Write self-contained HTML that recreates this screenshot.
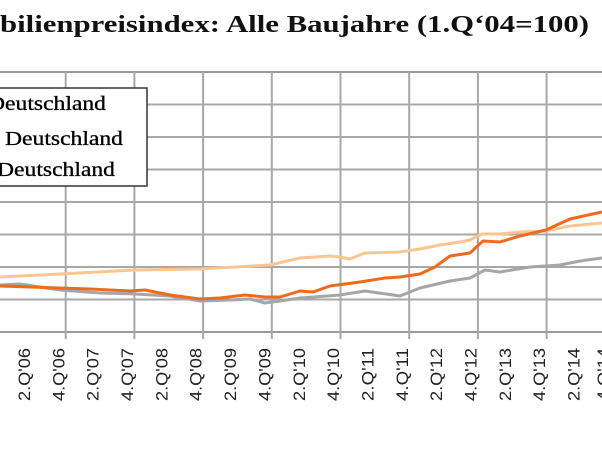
<!DOCTYPE html>
<html><head><meta charset="utf-8"><style>
html,body{margin:0;padding:0;background:#fff;width:602px;height:452px;overflow:hidden}
svg{display:block}
</style></head><body>
<svg width="602" height="452" xmlns="http://www.w3.org/2000/svg">
<text x="0" y="32" font-family="Liberation Serif, serif" font-weight="bold" font-size="24" fill="#111" textLength="589" lengthAdjust="spacingAndGlyphs">bilienpreisindex: Alle Baujahre (1.Q‘04=100)</text>
<g stroke="#a8a8a8" stroke-width="2">
<line x1="0" y1="72" x2="602" y2="72" stroke="#999"/>
<line x1="0" y1="104.5" x2="602" y2="104.5"/>
<line x1="0" y1="137" x2="602" y2="137"/>
<line x1="0" y1="169.5" x2="602" y2="169.5"/>
<line x1="0" y1="202" x2="602" y2="202"/>
<line x1="0" y1="234.5" x2="602" y2="234.5"/>
<line x1="0" y1="267" x2="602" y2="267"/>
<line x1="0" y1="299.5" x2="602" y2="299.5"/>
<line x1="0" y1="332" x2="602" y2="332" stroke="#999"/>
<line x1="65.7" y1="72" x2="65.7" y2="339"/>
<line x1="134.4" y1="72" x2="134.4" y2="339"/>
<line x1="203.1" y1="72" x2="203.1" y2="339"/>
<line x1="271.8" y1="72" x2="271.8" y2="339"/>
<line x1="340.5" y1="72" x2="340.5" y2="339"/>
<line x1="409.2" y1="72" x2="409.2" y2="339"/>
<line x1="477.9" y1="72" x2="477.9" y2="339"/>
<line x1="546.6" y1="72" x2="546.6" y2="339"/>
</g>
<g fill="none" stroke-width="3" stroke-linejoin="round">
<polyline stroke="#fcc592" points="0,277 60,274 135,270 200,269 270,265 300,258 330,256 340,257 350,259 365,253 400,252 420,249 440,245 460,242 470,240 482,234 500,234 520,232 546,231 570,226 602,223"/>
<polyline stroke="#a6a6a6" points="0,285 20,284 60,290 100,293 135,294 170,296 200,301 230,300 250,299 265,303 280,301 300,298 340,295 365,291 400,296 420,288 450,281 470,278 485,270 500,272 530,267 546,266 560,265 580,261 602,258"/>
<polyline stroke="#f06a1c" points="0,286 60,288 90,289 130,291 145,290 170,295 200,299 220,298 245,295 265,297 280,297 300,291 313,292 330,286 360,282 385,278 400,277 420,274 435,267 450,256 470,253 483,241 500,242 520,236 546,230 570,219 602,212"/>
</g>
<rect x="-5" y="88" width="152" height="98" fill="#fff" stroke="#333" stroke-width="1.5"/>
<g font-family="Liberation Serif, serif" font-size="20" fill="#000" stroke="#000" stroke-width="0.3" text-anchor="end">
<text x="106" y="110" textLength="118" lengthAdjust="spacingAndGlyphs">Deutschland</text>
<text x="123" y="145" textLength="118" lengthAdjust="spacingAndGlyphs">Deutschland</text>
<text x="115" y="176" textLength="118" lengthAdjust="spacingAndGlyphs">Deutschland</text>
</g>
<g font-family="Liberation Sans, sans-serif" font-size="17" fill="#222" text-anchor="end">
<text transform="translate(-4,348) rotate(-90)" textLength="53" lengthAdjust="spacingAndGlyphs">4.Q'05</text>
<text transform="translate(30,348) rotate(-90)" textLength="53" lengthAdjust="spacingAndGlyphs">2.Q'06</text>
<text transform="translate(64.4,348) rotate(-90)" textLength="53" lengthAdjust="spacingAndGlyphs">4.Q'06</text>
<text transform="translate(98.7,348) rotate(-90)" textLength="53" lengthAdjust="spacingAndGlyphs">2.Q'07</text>
<text transform="translate(133,348) rotate(-90)" textLength="53" lengthAdjust="spacingAndGlyphs">4.Q'07</text>
<text transform="translate(167.4,348) rotate(-90)" textLength="53" lengthAdjust="spacingAndGlyphs">2.Q'08</text>
<text transform="translate(201.7,348) rotate(-90)" textLength="53" lengthAdjust="spacingAndGlyphs">4.Q'08</text>
<text transform="translate(236.1,348) rotate(-90)" textLength="53" lengthAdjust="spacingAndGlyphs">2.Q'09</text>
<text transform="translate(270.4,348) rotate(-90)" textLength="53" lengthAdjust="spacingAndGlyphs">4.Q'09</text>
<text transform="translate(304.8,348) rotate(-90)" textLength="53" lengthAdjust="spacingAndGlyphs">2.Q'10</text>
<text transform="translate(339.1,348) rotate(-90)" textLength="53" lengthAdjust="spacingAndGlyphs">4.Q'10</text>
<text transform="translate(373.5,348) rotate(-90)" textLength="53" lengthAdjust="spacingAndGlyphs">2.Q'11</text>
<text transform="translate(407.8,348) rotate(-90)" textLength="53" lengthAdjust="spacingAndGlyphs">4.Q'11</text>
<text transform="translate(442.2,348) rotate(-90)" textLength="53" lengthAdjust="spacingAndGlyphs">2.Q'12</text>
<text transform="translate(476.5,348) rotate(-90)" textLength="53" lengthAdjust="spacingAndGlyphs">4.Q'12</text>
<text transform="translate(510.9,348) rotate(-90)" textLength="53" lengthAdjust="spacingAndGlyphs">2.Q'13</text>
<text transform="translate(545.2,348) rotate(-90)" textLength="53" lengthAdjust="spacingAndGlyphs">4.Q'13</text>
<text transform="translate(579.6,348) rotate(-90)" textLength="53" lengthAdjust="spacingAndGlyphs">2.Q'14</text>
<text transform="translate(609,348) rotate(-90)" textLength="53" lengthAdjust="spacingAndGlyphs">4.Q'14</text>
</g>
</svg>
</body></html>
